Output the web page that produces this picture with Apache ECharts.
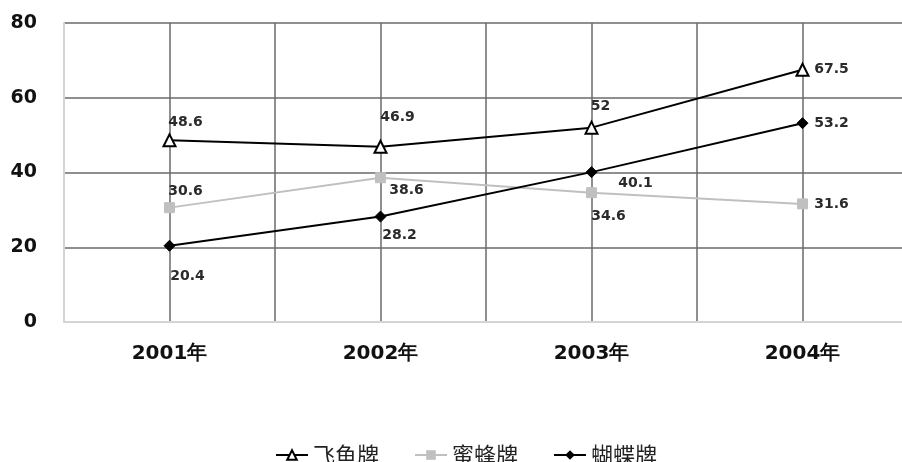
<!DOCTYPE html>
<html><head><meta charset="utf-8">
<script src="https://cdn.jsdelivr.net/npm/echarts@6/dist/echarts.min.js"></script>
<style>html,body{margin:0;padding:0;background:#fff}#c{width:902px;height:462px}</style>
</head><body><div id="c"></div>
<script>
var categories = ['2001年', '2002年', '2003年', '2004年'];
var feiyu = [48.6, 46.9, 52, 67.5];
var mifeng = [30.6, 38.6, 34.6, 31.6];
var hudie = [20.4, 28.2, 40.1, 53.2];
var yTicks = [0, 20, 40, 60, 80];

// label offsets (styling only)
var feiyuOff = [[16, -18], [17, -29], [9, -21], [29, 0]];
var mifengOff = [[16, -16], [26, 13], [17, 24], [29, 0]];
var hudieOff = [[18, 31], [19, 19], [44, 11], [29, 0]];

function withLabels(vals, offs) {
  return vals.map(function (v, i) {
    return { value: v, label: { offset: offs[i] } };
  });
}

var labelStyle = {
  show: true, position: 'inside', color: '#2a2a2a',
  fontFamily: 'DejaVu Sans', fontWeight: 'bold', fontSize: 14
};

var chart = echarts.init(document.getElementById('c'));
chart.setOption({
  animation: false,
  backgroundColor: '#fff',
  grid: { left: 64, top: 23, width: 844, bottom: 140, outerBoundsMode: 'none', containLabel: false },
  legend: {
    top: 439, left: 270, itemWidth: 32, itemHeight: 12, itemGap: 35,
    textStyle: { fontFamily: 'Noto Sans CJK SC', fontSize: 22, color: '#222' },
    data: ['飞鱼牌', '蜜蜂牌', '蝴蝶牌']
  },
  xAxis: [{
    type: 'category', data: categories, boundaryGap: true,
    axisLine: { show: true, lineStyle: { color: '#d4d4d4', width: 2 } },
    axisTick: { show: false },
    splitLine: { show: false },
    axisLabel: { margin: 22, color: '#111', fontFamily: 'DejaVu Sans', fontWeight: 'bold', fontSize: 20 }
  }, {
    type: 'value', min: 0, max: 8, interval: 1, position: 'bottom',
    axisLine: { show: false }, axisTick: { show: false }, axisLabel: { show: false },
    splitLine: { show: true, showMinLine: false, lineStyle: { color: '#6a6a6a', width: 1.5 } }
  }],
  yAxis: {
    type: 'value', min: yTicks[0], max: yTicks[yTicks.length - 1], interval: 20,
    axisLine: { show: true, lineStyle: { color: '#d4d4d4', width: 2 } },
    axisTick: { show: false },
    splitLine: { show: true, showMinLine: false, lineStyle: { color: '#6a6a6a', width: 1.5 } },
    axisLabel: { margin: 27, color: '#111', fontFamily: 'DejaVu Sans', fontWeight: 'bold', fontSize: 19 }
  },
  series: [{
    name: '飞鱼牌', type: 'line', data: withLabels(feiyu, feiyuOff),
    symbol: 'triangle', symbolSize: 12,
    itemStyle: { color: '#fff', borderColor: '#000', borderWidth: 2 },
    lineStyle: { color: '#000', width: 2 },
    label: labelStyle, z: 4
  }, {
    name: '蜜蜂牌', type: 'line', data: withLabels(mifeng, mifengOff),
    symbol: 'rect', symbolSize: 10,
    itemStyle: { color: '#c0c0c0', borderColor: '#c0c0c0' },
    lineStyle: { color: '#c0c0c0', width: 2 },
    label: labelStyle, z: 2
  }, {
    name: '蝴蝶牌', type: 'line', data: withLabels(hudie, hudieOff),
    symbol: 'diamond', symbolSize: 11,
    itemStyle: { color: '#000', borderColor: '#000' },
    lineStyle: { color: '#000', width: 2 },
    label: labelStyle, z: 3
  }]
});
</script>
</body></html>
